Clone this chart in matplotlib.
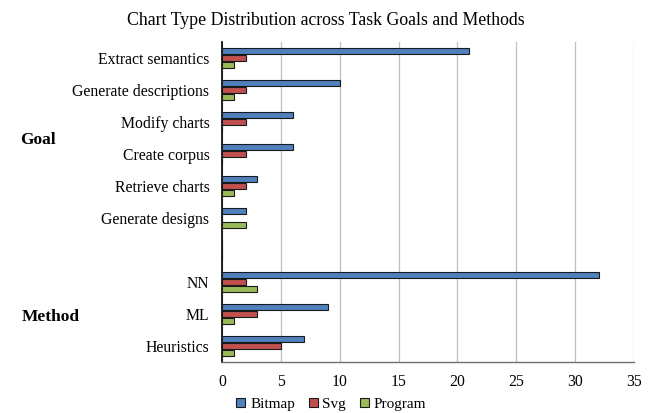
import matplotlib
matplotlib.use("Agg")
import matplotlib.pyplot as plt
import numpy as np

plt.rcParams['font.family'] = ['Liberation Serif', 'DejaVu Serif']

categories = ["Extract semantics", "Generate descriptions", "Modify charts", "Create corpus",
              "Retrieve charts", "Generate designs", "", "NN", "ML", "Heuristics"]
bitmap = [21, 10, 6, 6, 3, 2, 0, 32, 9, 7]
svg = [2, 2, 2, 2, 2, 0, 0, 2, 3, 5]
program = [1, 1, 0, 0, 1, 2, 0, 3, 1, 1]
series_names = ["Bitmap", "Svg", "Program"]
colors = ["#4F81BD", "#C0504D", "#9BBB59"]
group_labels = ["Goal", "Method"]

fig = plt.figure(figsize=(6.52, 4.13), dpi=100)
ax = fig.add_axes([222/652, 1-362/413, (634-222)/652, 320/413])

n = len(categories)
y = np.arange(n)
h = 0.22
for i, (vals, name, c) in enumerate(zip([bitmap, svg, program], series_names, colors)):
    ax.barh(y - h + i*h, vals, height=h*0.97, color=c, edgecolor="#1a1a1a", linewidth=0.8, label=name, zorder=3)

ax.set_xlim(0, 35)
ax.set_ylim(n - 0.5, -0.5)
ax.set_xticks(np.arange(0, 36, 5))
ax.set_yticks(y)
ax.set_yticklabels(categories, fontsize=11.3)
ax.tick_params(axis='y', length=0, pad=9)
ax.tick_params(axis='x', length=0, labelsize=11.3, pad=9)
ax.grid(axis='x', color="#BFBFBF", linewidth=0.9, zorder=0)
for s in ["top", "right"]:
    ax.spines[s].set_visible(False)
ax.spines["left"].set_color("black")
ax.spines["left"].set_linewidth1 = None
ax.spines["left"].set_linewidth(1.2)
ax.spines["bottom"].set_color("#707070")
ax.spines["bottom"].set_linewidth(1.0)

fig.text(20/652, 1-140/413, group_labels[0], fontsize=12.5, fontweight="bold", ha="left", va="center")
fig.text(22/652, 1-317/413, group_labels[1], fontsize=12.5, fontweight="bold", ha="left", va="center")

fig.suptitle("Chart Type Distribution across Task Goals and Methods", fontsize=12.8, y=0.972)

ax.legend(loc="upper center", bbox_to_anchor=(0.265, -0.092), ncol=3, frameon=False, fontsize=11,
          handlelength=0.6, handleheight=0.6, handletextpad=0.3, columnspacing=0.9, borderaxespad=0)

fig.savefig("out.png", dpi=100)
